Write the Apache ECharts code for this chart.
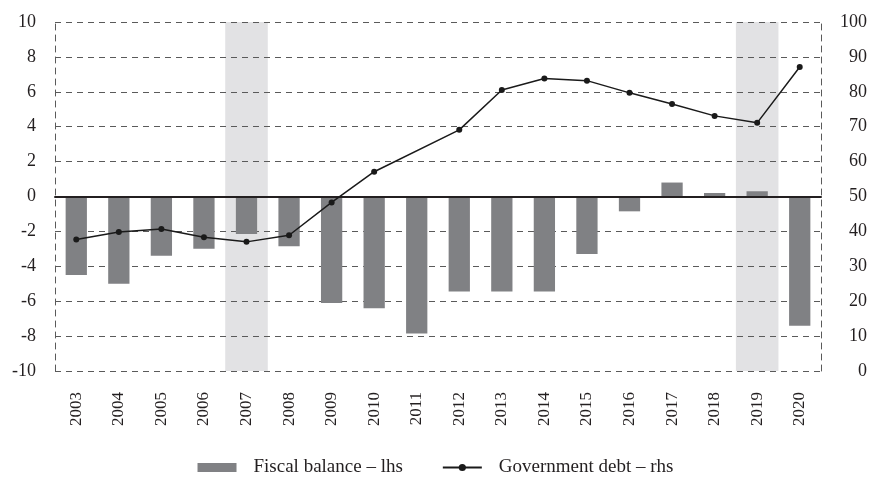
<!DOCTYPE html>
<html>
<head>
<meta charset="utf-8">
<script src="https://cdn.jsdelivr.net/npm/echarts@6/dist/echarts.min.js"></script>
<style>
html,body{margin:0;padding:0;background:#fff;}
#chart{width:871px;height:477px;}
</style>
</head>
<body>
<div id="chart"></div>
<script>
var years = ['2003','2004','2005','2006','2007','2008','2009','2010','2011','2012','2013','2014','2015','2016','2017','2018','2019','2020'];
var fiscalBalance = [-4.5,-5.0,-3.4,-3.0,-2.15,-2.85,-6.1,-6.4,-7.85,-5.45,-5.45,-5.45,-3.3,-0.85,0.8,0.2,0.3,-7.4];
var governmentDebt = [37.7,39.8,40.7,38.3,37.0,38.9,48.3,57.1,null,69.1,80.5,83.8,83.2,79.7,76.5,73.1,71.1,87.1];
var shadedYears = ['2007','2019'];
var leftTicks = {min:-10, max:10, interval:2};
var rightTicks = {min:0, max:100, interval:10};

var shadeUp = years.map(function(y){ return shadedYears.indexOf(y) >= 0 ? leftTicks.max : null; });
var shadeDown = years.map(function(y){ return shadedYears.indexOf(y) >= 0 ? leftTicks.min : null; });

var font = 'Liberation Serif, Times New Roman, serif';
var txt = '#231f20';
var dash = {color:'#5a5a5a', width:1, type:[6,5]};

var chart = echarts.init(document.getElementById('chart'), null, {renderer:'canvas'});
chart.setOption({
  animation:false,
  grid:{left:55, right:50, top:22, bottom:106},
  legend:{
    top:458, left:'center', padding:0,
    itemWidth:39, itemHeight:9, itemGap:39,
    textStyle:{fontFamily:font, fontSize:19, color:txt, padding:[0,0,0,12]},
    data:[
      {name:'Fiscal balance – lhs', icon:'rect'},
      {name:'Government debt – rhs'}
    ]
  },
  xAxis:[{
    type:'category', data:years, z:3,
    axisLine:{onZero:true, onZeroAxisIndex:0, lineStyle:{color:txt, width:2}},
    axisTick:{show:false},
    axisLabel:{rotate:90, interval:0, margin:21, fontFamily:font, fontSize:17, color:txt},
    splitLine:{show:false}
  },{
    type:'category', data:years, show:false
  }],
  yAxis:[{
    type:'value', min:leftTicks.min, max:leftTicks.max, interval:leftTicks.interval,
    axisLine:{show:true, lineStyle:dash},
    axisTick:{show:false},
    axisLabel:{margin:19, fontFamily:font, fontSize:18, color:txt},
    splitLine:{show:true, lineStyle:dash}
  },{
    type:'value', min:rightTicks.min, max:rightTicks.max, interval:rightTicks.interval,
    position:'right',
    axisLine:{show:true, lineStyle:dash},
    axisTick:{show:false},
    axisLabel:{margin:46, align:'right', fontFamily:font, fontSize:18, color:txt},
    splitLine:{show:false}
  }],
  series:[
    {name:'shadeUp', type:'bar', xAxisIndex:1, yAxisIndex:0, stack:'shade', barWidth:'100%', z:-1,
     data:shadeUp, itemStyle:{color:'#e2e2e4'}, silent:true},
    {name:'shadeDown', type:'bar', xAxisIndex:1, yAxisIndex:0, stack:'shade', barWidth:'100%', z:-1,
     data:shadeDown, itemStyle:{color:'#e2e2e4'}, silent:true},
    {name:'Fiscal balance – lhs', type:'bar', xAxisIndex:0, yAxisIndex:0, barWidth:'50%', z:2,
     data:fiscalBalance, itemStyle:{color:'#808184'}},
    {name:'Government debt – rhs', type:'line', xAxisIndex:0, yAxisIndex:1, z:5,
     data:governmentDebt, connectNulls:true,
     symbol:'circle', symbolSize:6,
     lineStyle:{color:'#1a1a1a', width:1.5},
     itemStyle:{color:'#1a1a1a'}}
  ]
});
</script>
</body>
</html>
